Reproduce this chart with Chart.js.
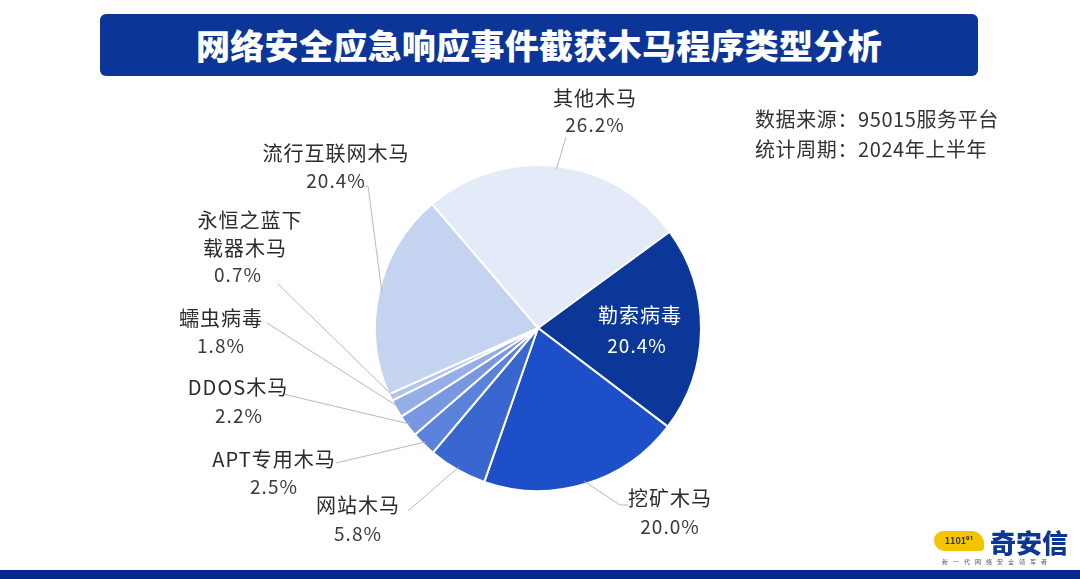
<!DOCTYPE html>
<html><head><meta charset="utf-8">
<script src="https://cdn.jsdelivr.net/npm/chart.js@4"></script>
<style>
html,body{margin:0;padding:0;background:#fff;width:1080px;height:579px;overflow:hidden;font-family:"Noto Sans CJK SC","Noto Sans",sans-serif;}
#wrap{position:absolute;left:0;top:0;width:1080px;height:579px;}
#banner{position:absolute;left:100px;top:14px;width:878px;height:62px;background:#0b3597;border-radius:6px;color:#fff;font-weight:900;font-size:34px;line-height:62px;text-align:center;letter-spacing:0.3px;}
.note{position:absolute;left:755px;font-size:20px;color:#333;letter-spacing:0.6px;white-space:nowrap;}
#bottom{position:absolute;left:0;top:570px;width:1080px;height:9px;background:#012a8c;}
#logo{position:absolute;left:934px;top:526px;width:140px;height:40px;}
#logo .name{position:absolute;left:56px;top:0;font-size:26px;font-weight:900;color:#0b3597;line-height:32px;}
#logo .tag{position:absolute;left:8px;top:31px;font-size:6px;color:#555;letter-spacing:5px;white-space:nowrap;}
#logo .cat{position:absolute;left:0;top:5px;width:50px;height:20px;background:#f5c400;border-radius:10px 14px 4px 12px;color:#333;font-size:9px;line-height:20px;text-align:center;font-weight:700;}
</style></head>
<body><div id="wrap">
<canvas id="c" width="1080" height="579"></canvas>
<div id="banner">网络安全应急响应事件截获木马程序类型分析</div>
<div class="note" style="top:104px">数据来源：95015服务平台</div>
<div class="note" style="top:134px">统计周期：2024年上半年</div>
<div id="logo"><div class="cat">1101⁰¹</div><div class="name">奇安信</div><div class="tag">新一代网络安全领军者</div></div>
<div id="bottom"></div>
</div>
<script>
const categories = ["勒索病毒","挖矿木马","网站木马","APT专用木马","DDOS木马","蠕虫病毒","永恒之蓝下载器木马","流行互联网木马","其他木马"];
const values = [20.4, 20.0, 5.8, 2.5, 2.2, 1.8, 0.7, 20.4, 26.2];
const percentLabels = ["20.4%","20.0%","5.8%","2.5%","2.2%","1.8%","0.7%","20.4%","26.2%"];
const colors = ["#0b3798","#1d4fc9","#3a66d0","#5a82db","#7897e0","#95aee6","#b1c4ed","#c4d3f0","#e4ebf8"];

// label layout: text lines (with centers), percent center, leader-line anchor
const labelLayout = [
  {lines:[["勒索病毒",640,315]], pct:[637,346], inside:true},
  {lines:[["挖矿木马",670,498]], pct:[670,527], ax:628, ay:505, bend:[620,505]},
  {lines:[["网站木马",358,505]], pct:[358,534], ax:408, ay:511},
  {lines:[["APT专用木马",274,459]], pct:[274,487], ax:336, ay:463},
  {lines:[["DDOS木马",238,387]], pct:[239,416], ax:283, ay:394},
  {lines:[["蠕虫病毒",221,318]], pct:[221,346], ax:267, ay:323},
  {lines:[["永恒之蓝下",250,220],["载器木马",245,248]], pct:[238,275], ax:278, ay:284},
  {lines:[["流行互联网木马",336,153]], pct:[336,181], ax:368, ay:186, tick:[362,186]},
  {lines:[["其他木马",595,98]], pct:[595,125], ax:566, ay:137}
];

const labelPlugin = {
  id:'labels',
  afterDatasetsDraw(chart){
    const ctx = chart.ctx;
    const meta = chart.getDatasetMeta(0);
    ctx.save();
    meta.data.forEach((arc,i)=>{
      const L = labelLayout[i];
      const p = arc.getProps(['x','y','startAngle','endAngle','outerRadius'], true);
      const mid = (p.startAngle + p.endAngle)/2;
      if(!L.inside){
        const ex = p.x + Math.cos(mid)*(p.outerRadius-3);
        const ey = p.y + Math.sin(mid)*(p.outerRadius-3);
        ctx.strokeStyle = '#b8b8b8';
        ctx.lineWidth = 1;
        ctx.beginPath();
        ctx.moveTo(ex,ey);
        if(L.bend){ ctx.lineTo(L.bend[0],L.bend[1]); }
        ctx.lineTo(L.ax,L.ay);
        if(L.tick){ ctx.lineTo(L.tick[0],L.tick[1]); }
        ctx.stroke();
      }
      ctx.textAlign='center';
      ctx.textBaseline='middle';
      ctx.font = '20px "Noto Sans CJK SC", sans-serif';
      ctx.fillStyle = L.inside ? '#ffffff' : '#2b2b2b';
      ctx.letterSpacing = '1px';
      L.lines.forEach(([t,x,y])=>{ ctx.fillText(t, x, y); });
      ctx.letterSpacing = '1px';
      ctx.fillStyle = L.inside ? '#ffffff' : '#3a3a3a';
      ctx.font = '19px "Noto Sans CJK SC", sans-serif';
      ctx.fillText(percentLabels[i], L.pct[0], L.pct[1]);
    });
    ctx.restore();
  }
};

new Chart(document.getElementById('c'), {
  type:'pie',
  data:{labels:categories, datasets:[{data:values, backgroundColor:colors, borderColor:'#ffffff', borderWidth:2, radius:163}]},
  options:{
    responsive:false, animation:false, rotation:53.8,
    layout:{padding:{left:0,right:4,top:77,bottom:0}},
    plugins:{legend:{display:false}, tooltip:{enabled:false}}
  },
  plugins:[labelPlugin]
});
</script>
</body></html>
